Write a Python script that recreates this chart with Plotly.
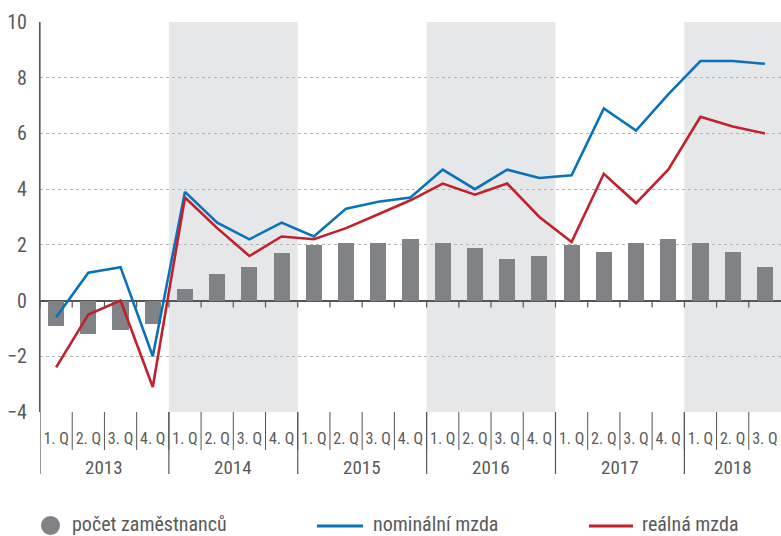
import plotly.graph_objects as go

# ---------------- data ----------------
years = ["2013", "2014", "2015", "2016", "2017", "2018"]
quarters_per_year = [4, 4, 4, 4, 4, 3]
quarter_names = ["1. Q", "2. Q", "3. Q", "4. Q"]
shaded_years = ["2014", "2016", "2018"]

employees = [-0.9, -1.2, -1.05, -0.85, 0.4, 0.95, 1.2, 1.7, 2.0, 2.05, 2.05, 2.2,
             2.05, 1.9, 1.5, 1.6, 2.0, 1.75, 2.05, 2.2, 2.05, 1.75, 1.2]
nominal = [-0.6, 1.0, 1.2, -2.0, 3.9, 2.8, 2.2, 2.8, 2.3, 3.3, 3.55, 3.7,
           4.7, 4.0, 4.7, 4.4, 4.5, 6.9, 6.1, 7.4, 8.6, 8.6, 8.5]
real = [-2.4, -0.5, 0.0, -3.1, 3.7, 2.6, 1.6, 2.3, 2.2, 2.6, 3.1, 3.6,
        4.2, 3.8, 4.2, 3.0, 2.1, 4.55, 3.5, 4.7, 6.6, 6.25, 6.0]

legend_names = ["počet zaměstnanců", "nominální mzda", "reálná mzda"]
y_ticks = [-4, -2, 0, 2, 4, 6, 8, 10]
y_tick_text = ["\u22124", "\u22122", "0", "2", "4", "6", "8", "10"]

# ---------------- derived ----------------
quarter_labels = []
year_start = []
idx = 0
for y, n in zip(years, quarters_per_year):
    year_start.append(idx)
    quarter_labels += quarter_names[:n]
    idx += n
x = list(range(len(quarter_labels)))
n_q = len(x)

W, H = 781, 536
ML, MR, MT, MB = 40, 0, 22, 124
PW, PH = W - ML - MR, H - MT - MB
FONT = "Liberation Sans Narrow, Roboto Condensed, Noto Sans, sans-serif"
GREY_TXT = "#5a5a5a"
AX = "#555555"
BLUE = "#0a72ba"
RED = "#c1202d"
BAR = "#808285"
BAND = "#e6e7e8"


def px(xp):
    return (xp - ML) / PW


def py(yp):
    return (MT + PH - yp) / PH


fig = go.Figure()
fig.add_trace(go.Bar(x=x, y=employees, marker=dict(color=BAR, line=dict(width=0)),
                     width=0.5, name=legend_names[0], showlegend=False))
fig.add_trace(go.Scatter(x=x, y=nominal, mode="lines", line=dict(color=BLUE, width=2.6),
                         name=legend_names[1], showlegend=False))
fig.add_trace(go.Scatter(x=x, y=real, mode="lines", line=dict(color=RED, width=2.6),
                         name=legend_names[2], showlegend=False))

shapes = []
annotations = []
# shaded year bands
for y, s, n in zip(years, year_start, quarters_per_year):
    if y in shaded_years:
        shapes.append(dict(type="rect", xref="x", yref="y", x0=s - 0.5,
                           x1=min(s + n - 0.5, n_q - 0.5), y0=-4, y1=10,
                           fillcolor=BAND, line=dict(width=0), layer="below"))
# quarter ticks on zero line and quarter separators below axis
for i in range(n_q):
    b = i - 0.5
    shapes.append(dict(type="line", xref="x", yref="y", x0=b, x1=b, y0=0, y1=-0.25,
                       line=dict(color=AX, width=1.2)))
    if i > 0:
        shapes.append(dict(type="line", xref="x", yref="paper", x0=b, x1=b, y0=0, y1=py(450),
                           line=dict(color=AX, width=1)))
# year separators
for s in year_start:
    shapes.append(dict(type="line", xref="x", yref="paper", x0=s - 0.5, x1=s - 0.5,
                       y0=0 if s > 0 else 1, y1=py(474), line=dict(color=AX, width=1.2)))
# year labels
for y, s, n in zip(years, year_start, quarters_per_year):
    annotations.append(dict(x=s + (n - 1) / 2, xref="x", y=py(467), yref="paper",
                            text=y, showarrow=False, xanchor="center", yanchor="middle",
                            font=dict(family=FONT, size=19, color=GREY_TXT)))

# custom legend
ly = py(524)
shapes.append(dict(type="circle", xref="paper", yref="paper", x0=px(41), x1=px(60),
                   y0=py(535), y1=py(516), fillcolor=BAR, line=dict(width=0)))
shapes.append(dict(type="line", xref="paper", yref="paper", x0=px(317), x1=px(363),
                   y0=py(526), y1=py(526), line=dict(color=BLUE, width=3)))
shapes.append(dict(type="line", xref="paper", yref="paper", x0=px(589), x1=px(633),
                   y0=py(526), y1=py(526), line=dict(color=RED, width=3)))
for name, xp in zip(legend_names, [70, 371, 640]):
    annotations.append(dict(x=px(xp), xref="paper", y=ly, yref="paper", text=name,
                            showarrow=False, xanchor="left", yanchor="middle",
                            font=dict(family=FONT, size=20, color=GREY_TXT)))

fig.update_layout(
    width=W, height=H,
    margin=dict(l=ML, r=MR, t=MT, b=MB, pad=0),
    plot_bgcolor="white", paper_bgcolor="white",
    showlegend=False,
    bargap=0,
    shapes=shapes, annotations=annotations,
    font=dict(family=FONT, color=GREY_TXT),
)
fig.update_xaxes(range=[-0.5, n_q - 0.5], tickvals=x, ticktext=quarter_labels,
                 showgrid=False, zeroline=False, showline=False, ticks="",
                 tickfont=dict(family=FONT, size=16, color=GREY_TXT), ticklabelstandoff=15)
fig.update_yaxes(range=[-4, 10], tickvals=y_ticks, ticktext=y_tick_text,
                 showgrid=True, gridcolor="#b5b5b5", griddash="dot", gridwidth=1,
                 zeroline=True, zerolinecolor=AX, zerolinewidth=1.5,
                 showline=True, linecolor=AX, linewidth=1.2, ticks="",
                 tickfont=dict(family=FONT, size=20, color=GREY_TXT), ticklabelstandoff=8)

fig.write_html("out.html", config={"displayModeBar": False},
               post_script="document.body.style.margin='0';document.body.style.padding='0';")
